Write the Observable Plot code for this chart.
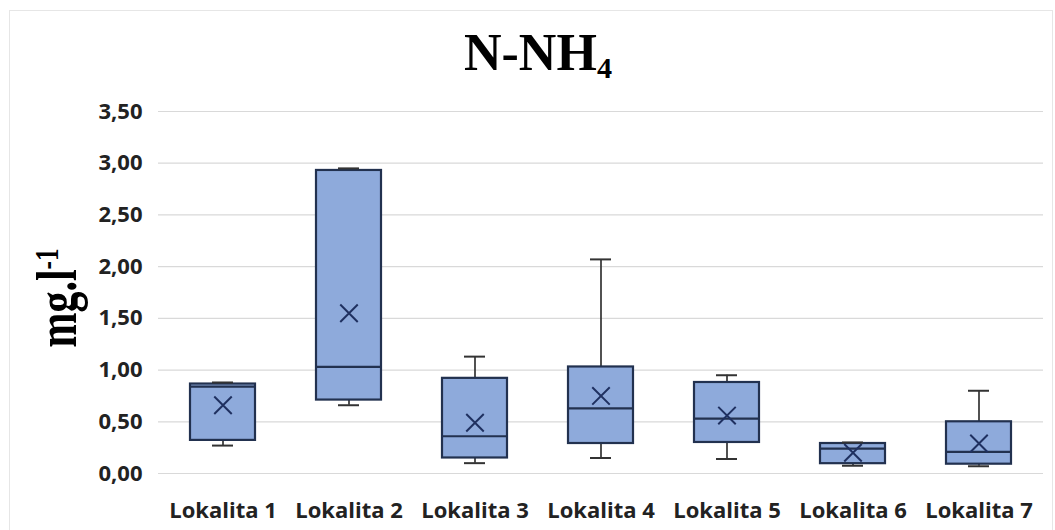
<!DOCTYPE html>
<html><head><meta charset="utf-8">
<script src="https://cdn.jsdelivr.net/npm/d3@7"></script>
<script src="https://cdn.jsdelivr.net/npm/@observablehq/plot@0.6"></script>
<style>
html,body{margin:0;padding:0;background:#fff;width:1055px;height:530px;overflow:hidden;}
#wrap{position:relative;width:1055px;height:530px;}
#frame{position:absolute;left:9px;top:10px;width:1044px;height:560px;border:1px solid #e6e6e6;box-sizing:border-box;}
#title{position:absolute;left:464px;top:27px;font-family:"Liberation Serif","Times New Roman",serif;font-weight:bold;font-size:52px;line-height:52px;color:#000;white-space:nowrap;}
#title sub{font-size:0.58em;vertical-align:-0.28em;line-height:0;}
#ylab{position:absolute;left:57px;top:298px;transform:translate(-50%,-50%) rotate(-90deg) scaleX(0.75);font-family:"Liberation Serif","Times New Roman",serif;font-weight:bold;font-size:56px;line-height:56px;color:#000;white-space:nowrap;}
#ylab sup{font-size:0.6em;vertical-align:0.55em;line-height:0;}
#chart{position:absolute;left:0;top:96px;}
</style>
</head><body>
<div id="wrap">
  <div id="frame"></div>
  <div id="title">N-NH<sub>4</sub></div>
  <div id="ylab">mg.l<sup>-1</sup></div>
  <div id="chart"></div>
</div>
<script>
const categories = ["Lokalita 1","Lokalita 2","Lokalita 3","Lokalita 4","Lokalita 5","Lokalita 6","Lokalita 7"];
const minVals  = [0.27, 0.66, 0.10, 0.15, 0.14, 0.075, 0.07];
const q1Vals   = [0.32, 0.71, 0.15, 0.29, 0.30, 0.095, 0.09];
const medVals  = [0.84, 1.03, 0.36, 0.63, 0.53, 0.24, 0.21];
const q3Vals   = [0.865, 2.93, 0.92, 1.03, 0.88, 0.29, 0.50];
const maxVals  = [0.88, 2.95, 1.13, 2.07, 0.95, 0.30, 0.80];
const meanVals = [0.66, 1.55, 0.49, 0.75, 0.56, 0.20, 0.29];
const yTicks = [0, 0.5, 1, 1.5, 2, 2.5, 3, 3.5];

const data = categories.map((c, i) => ({
  cat: c, min: minVals[i], q1: q1Vals[i], med: medVals[i], q3: q3Vals[i], max: maxVals[i], mean: meanVals[i]
}));

const boxStroke = "#22314f";
const whisk = "#333333";

const chart = Plot.plot({
  width: 1055,
  height: 434,
  marginTop: 15,
  marginBottom: 57,
  marginLeft: 158,
  marginRight: 12,
  style: {fontFamily: "'Open Sans', 'Noto Sans', sans-serif", fontSize: "22px", fontWeight: "bold", color: "#222222", background: "transparent"},
  x: {domain: categories, paddingInner: 0.484, paddingOuter: 0.242},
  y: {domain: [0, 3.5]},
  marks: [
    Plot.gridY(yTicks, {stroke: "#d9d9d9", strokeOpacity: 1, strokeWidth: 1.2}),
    Plot.axisY(yTicks, {tickSize: 0, tickPadding: 16, tickFormat: d => d.toFixed(2).replace(".", ","), label: null}),
    Plot.axisX({tickSize: 0, tickPadding: 29, label: null}),
    Plot.ruleX(data, {x: "cat", y1: "min", y2: "max", stroke: whisk, strokeWidth: 1.7}),
    Plot.barY(data, {x: "cat", y1: "q1", y2: "q3", fill: "#8eaadb", stroke: boxStroke, strokeWidth: 2.2}),
    Plot.tickY(data, {x: "cat", y: "med", stroke: boxStroke, strokeWidth: 2.2}),
    Plot.tickY(data, {x: "cat", y: "max", stroke: whisk, strokeWidth: 2, insetLeft: 22, insetRight: 22}),
    Plot.tickY(data, {x: "cat", y: "min", stroke: whisk, strokeWidth: 2, insetLeft: 22, insetRight: 22}),
    Plot.dot(data, {x: "cat", y: "mean", symbol: "times", r: 8, stroke: "#1f3060", strokeWidth: 2})
  ]
});
document.getElementById("chart").appendChild(chart);
</script>
</body></html>
